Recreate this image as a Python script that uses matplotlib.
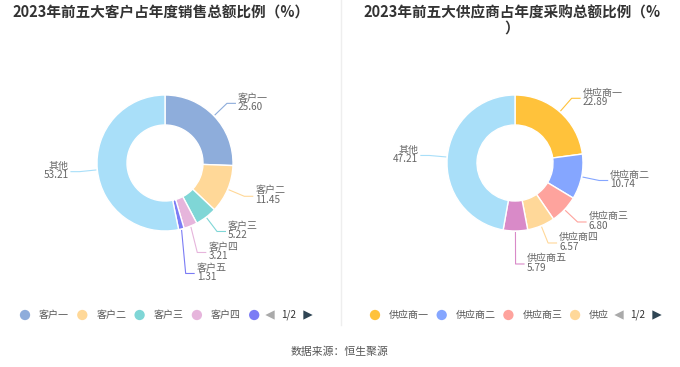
import matplotlib
matplotlib.use("Agg")
import matplotlib.pyplot as plt
import numpy as np

plt.rcParams['font.family'] = ['Noto Sans CJK SC', 'DejaVu Sans']

# data
cust_names = ['客户一', '客户二', '客户三', '客户四', '客户五', '其他']
cust_vals = [25.60, 11.45, 5.22, 3.21, 1.31, 53.21]
cust_colors = ['#8eaddb', '#ffd898', '#7fd6d6', '#e6b5dc', '#7b7cf5', '#a9dff9']

supp_names = ['供应商一', '供应商二', '供应商三', '供应商四', '供应商五', '其他']
supp_vals = [22.89, 10.74, 6.80, 6.57, 5.79, 47.21]
supp_colors = ['#ffc23b', '#85a6ff', '#fea39d', '#ffd899', '#d98ac8', '#a9dff9']

W, H = 680, 367
fig = plt.figure(figsize=(6.8, 3.67), dpi=100)
ax = fig.add_axes([0, 0, 1, 1])

R_OUT, R_IN = 68, 38
TXT = '#666666'


def donut(cx, cy_top, names, vals, colors):
    cy = H - cy_top
    wedges, _ = ax.pie(vals, colors=colors, startangle=90, counterclock=False,
                       center=(cx, cy), radius=R_OUT,
                       wedgeprops=dict(width=R_OUT - R_IN, edgecolor='white', linewidth=1))
    labels = []
    for w, name, v in zip(wedges, names, vals):
        a = np.deg2rad((w.theta1 + w.theta2) / 2)
        c, s = np.cos(a), np.sin(a)
        p0 = (cx + c * (R_OUT + 1), cy + s * (R_OUT + 1))
        ex, ey = cx + c * (R_OUT + 18), cy + s * (R_OUT + 18)
        labels.append(dict(side=1 if c >= 0 else -1, p0=p0, ex=ex, ey=ey,
                           name=name, v=v, color=w.get_facecolor()))
    # push overlapping labels apart (top to bottom, per side)
    for side in (1, -1):
        grp = sorted([l for l in labels if l['side'] == side], key=lambda l: -l['ey'])
        for i in range(1, len(grp)):
            if grp[i]['ey'] > grp[i - 1]['ey'] - 21:
                grp[i]['ey'] = grp[i - 1]['ey'] - 21
    for l in labels:
        sd = l['side']
        x2 = l['ex'] + sd * 9
        ax.plot([l['p0'][0], l['ex'], x2], [l['p0'][1], l['ey'], l['ey']],
                color=l['color'], lw=0.8, solid_capstyle='butt')
        ax.text(x2 + sd * 2, l['ey'] + 1, '%s\n%.2f' % (l['name'], l['v']),
                ha='left' if sd > 0 else 'right', va='center', fontsize=7.2,
                color=TXT, linespacing=0.95,
                multialignment='left' if sd > 0 else 'right')


def legend(x_start, step, names, colors, clip_x, arrow_x):
    y = H - 315
    for i, (name, col) in enumerate(zip(names, colors)):
        x = x_start + i * step
        if x > clip_x:
            break
        ax.scatter([x], [y], s=55, color=col, edgecolors='none', zorder=3)
        # legend is paged: names running into the pager get cut off
        nchar = int((clip_x - (x + 14)) // 10)
        shown = name[:max(nchar, 0)]
        if shown:
            ax.text(x + 14, y, shown, fontsize=7.2, color='#555555', va='center', ha='left')
    ax.scatter([arrow_x], [y], marker='<', s=45, color='#aaaaaa', edgecolors='none')
    ax.text(arrow_x + 11, y, '1/2', fontsize=7.2, color='#333333', va='center', ha='left')
    ax.scatter([arrow_x + 38], [y], marker='>', s=45, color='#2f4554', edgecolors='none')


donut(165, 163, cust_names, cust_vals, cust_colors)
donut(515, 163, supp_names, supp_vals, supp_colors)

legend(25, 57.3, cust_names, cust_colors, 263, 270)
legend(375, 66.7, supp_names, supp_colors, 611, 619)

ax.text(161, H - 12, '2023年前五大客户占年度销售总额比例（%）', ha='center', va='center',
        fontsize=10.5, fontweight='bold', color='#333333')
ax.text(512, H - 20, '2023年前五大供应商占年度采购总额比例（%\n）', ha='center', va='center',
        fontsize=10.5, fontweight='bold', color='#333333', linespacing=1.0,
        multialignment='center')

ax.plot([341, 341], [H, H - 325], color='#eeeeee', lw=1)
ax.text(340, H - 352, '数据来源：恒生聚源', ha='center', va='center', fontsize=7.8, color='#555555')

ax.set_xlim(0, W)
ax.set_ylim(0, H)
ax.set_aspect('auto')
ax.axis('off')

fig.savefig('out.png', dpi=100)
